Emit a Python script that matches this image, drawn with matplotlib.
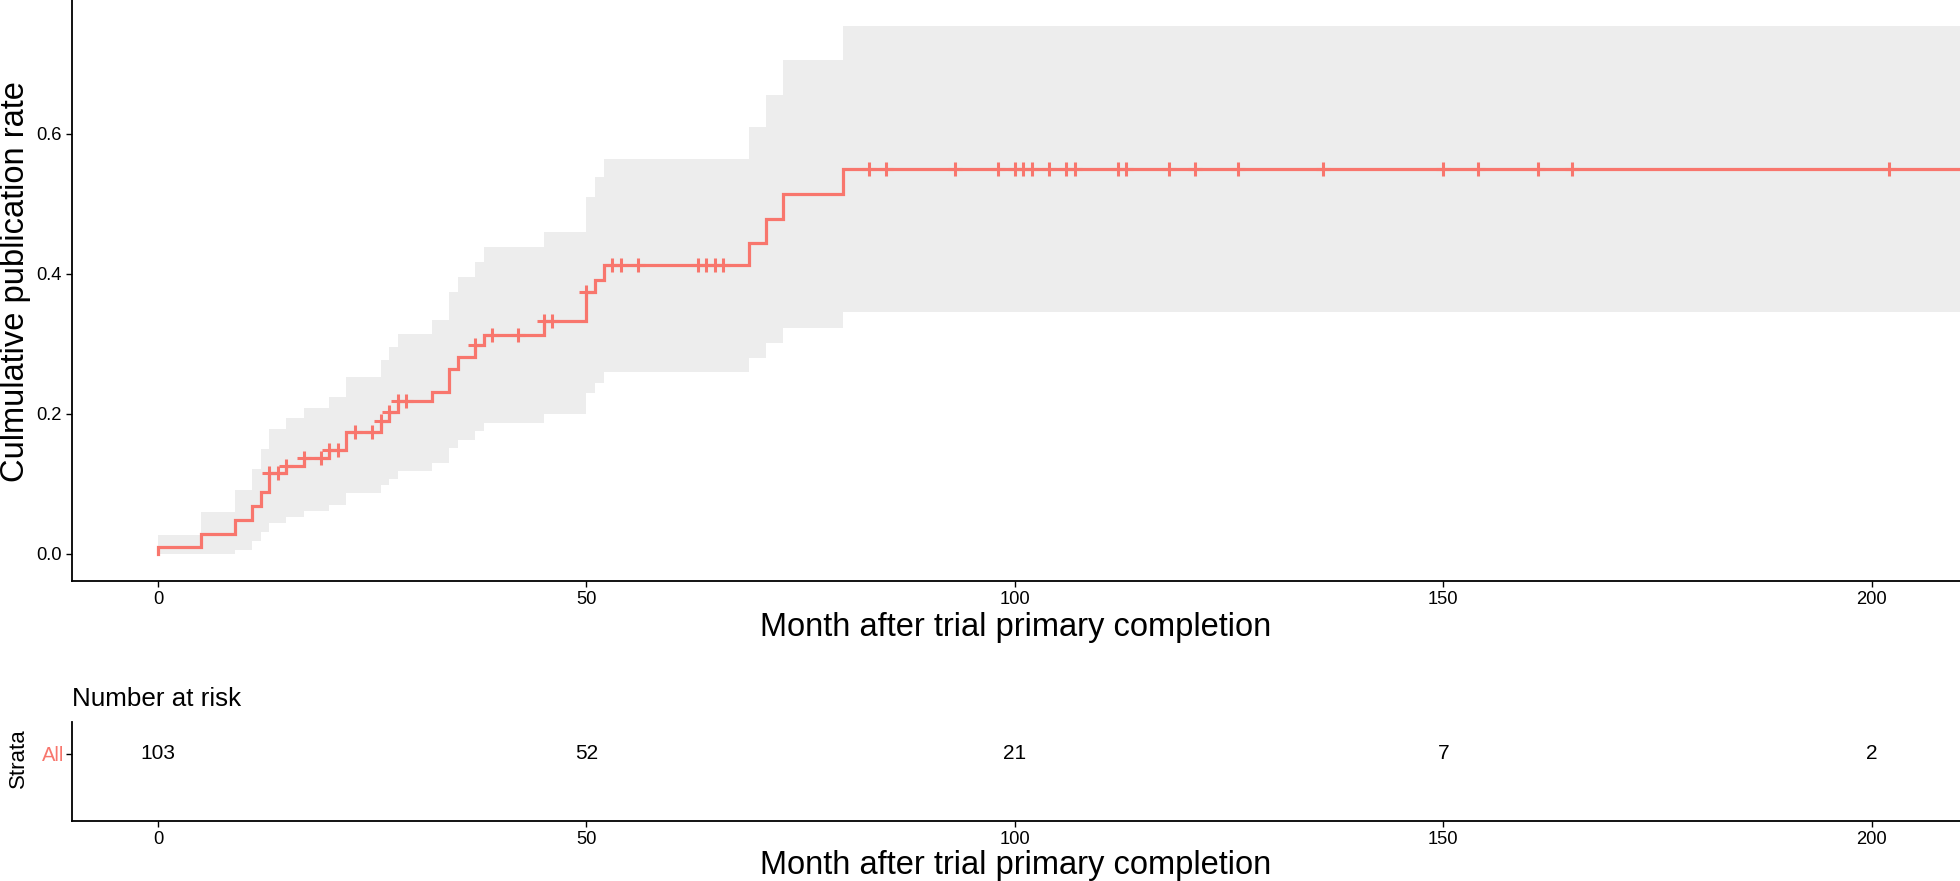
import numpy as np
import matplotlib
matplotlib.use("Agg")
import matplotlib.pyplot as plt

plt.rcParams['font.family'] = ['Liberation Sans', 'DejaVu Sans']

# ---- data ----
# event step times (months) and cumulative publication rate after each step
event_times = [0, 5, 9, 11, 12, 13, 15, 17, 20, 22, 26, 27, 28, 32, 34, 35, 37, 38,
               45, 50, 51, 52, 69, 71, 73, 80]
cum_rate = [0.0097, 0.0291, 0.0485, 0.068, 0.089, 0.1155, 0.1252, 0.1367, 0.1486,
            0.1748, 0.1905, 0.2033, 0.2186, 0.232, 0.264, 0.281, 0.2986, 0.3135,
            0.3335, 0.3743, 0.391, 0.4129, 0.4447, 0.479, 0.5145, 0.5505]
ci_upper = [0.027, 0.0605, 0.0914, 0.121, 0.1495, 0.178, 0.194, 0.208, 0.2248,
            0.2524, 0.277, 0.296, 0.314, 0.334, 0.3748, 0.396, 0.4167, 0.438,
            0.4605, 0.5105, 0.538, 0.564, 0.61, 0.656, 0.705, 0.754]
ci_lower = [0.0, 0.0, 0.0057, 0.019, 0.031, 0.0448, 0.053, 0.062, 0.070,
            0.0876, 0.0986, 0.107, 0.1186, 0.1295, 0.151, 0.163, 0.1757, 0.1876,
            0.200, 0.2295, 0.244, 0.2600, 0.2795, 0.301, 0.323, 0.346]
censor_times = [13, 14, 15, 17, 19, 20, 21, 23, 25, 26, 27, 28, 29, 37, 39, 42, 45,
                46, 50, 53, 54, 56, 63, 64, 65, 66, 83, 85, 93, 98, 100, 101, 102,
                104, 106, 107, 112, 113, 118, 121, 126, 136, 150, 154, 161, 165, 202]
follow_end = 215

risk_times = [0, 50, 100, 150, 200]
risk_counts = [103, 52, 21, 7, 2]
strata_label = "All"

x_ticks = [0, 50, 100, 150, 200]
y_ticks = [0.0, 0.2, 0.4, 0.6]

line_color = '#F8766D'
band_color = '#EDEDED'

W, H = 1960, 881
fig = plt.figure(figsize=(W / 100, H / 100), dpi=100)

xlim = (-10.03, 210.3)
ax = fig.add_axes([72 / W, 1 - 581 / H, (W - 72) / W, 581 / H])
ax2 = fig.add_axes([72 / W, 1 - 821 / H, (W - 72) / W, (821 - 722) / H])

# confidence band
bt = list(event_times) + [follow_end]
ax.fill_between(bt, list(ci_lower) + [ci_lower[-1]], list(ci_upper) + [ci_upper[-1]],
                step='post', color=band_color, linewidth=0, zorder=1)

# KM step curve (cumulative event)
sx = [0] + list(event_times) + [follow_end]
sy = [0] + list(cum_rate) + [cum_rate[-1]]
ax.step(sx, sy, where='post', color=line_color, linewidth=2.3, zorder=3,
        solid_joinstyle='miter')

# censor marks
et = np.array(event_times)
cr = np.array(cum_rate)
cy = [cr[np.searchsorted(et, t, side='right') - 1] for t in censor_times]
ax.plot(censor_times, cy, linestyle='none', marker='+', markersize=10,
        markeredgewidth=2.2, color=line_color, zorder=4)

ax.set_xlim(*xlim)
ax.set_ylim(-0.0386, 0.7914)
ax.set_xticks(x_ticks)
ax.set_yticks(y_ticks)
ax.set_yticklabels([f"{v:.1f}" for v in y_ticks])
for s in ['top', 'right']:
    ax.spines[s].set_visible(False)
for s in ['left', 'bottom']:
    ax.spines[s].set_linewidth(1.3)
ax.tick_params(axis='both', length=4.3, width=1.0, labelsize=13.2, pad=3,
               colors='black')
ax.set_xlabel("Month after trial primary completion", fontsize=23.5, labelpad=3)
ax.set_ylabel("Culmulative publication rate", fontsize=23.5)
ax.yaxis.label.set_verticalalignment('center')
ax.yaxis.set_label_coords((16 - 72) / (W - 72), 0.515)

# risk table
for t, n in zip(risk_times, risk_counts):
    ax2.text(t, 0, str(n), ha='center', va='center', fontsize=15)
ax2.set_xlim(*xlim)
ax2.set_ylim(-0.68, 0.32)
ax2.set_xticks(x_ticks)
ax2.set_yticks([0])
ax2.set_yticklabels([strata_label])
ax2.get_yticklabels()[0].set_color(line_color)
for s in ['top', 'right']:
    ax2.spines[s].set_visible(False)
for s in ['left', 'bottom']:
    ax2.spines[s].set_linewidth(1.3)
ax2.tick_params(axis='x', length=4.3, width=1.0, labelsize=13.2, pad=3)
ax2.tick_params(axis='y', length=4.3, width=1.0, labelsize=14.5, pad=1)
ax2.set_xlabel("Month after trial primary completion", fontsize=23.5, labelpad=1)
ax2.set_ylabel("Strata", fontsize=16)
ax2.yaxis.label.set_verticalalignment('center')
ax2.yaxis.set_label_coords((18 - 72) / (W - 72), 0.64)
fig.text(72 / W, 1 - 699 / H, "Number at risk", fontsize=18.7, ha='left', va='center')

fig.savefig("out.png", dpi=100)
